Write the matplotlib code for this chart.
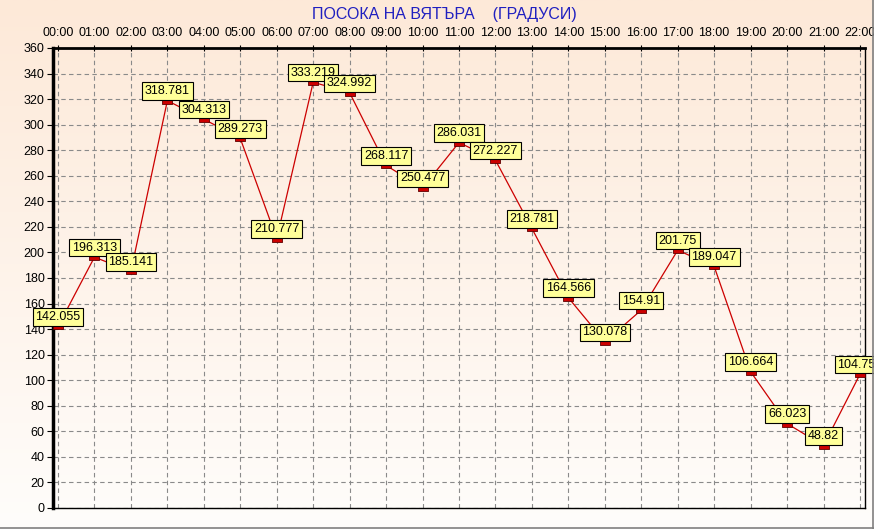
import matplotlib.pyplot as plt
import numpy as np
from matplotlib.path import Path
from matplotlib.lines import Line2D

hours = ['00:00', '01:00', '02:00', '03:00', '04:00', '05:00', '06:00', '07:00',
         '08:00', '09:00', '10:00', '11:00', '12:00', '13:00', '14:00', '15:00',
         '16:00', '17:00', '18:00', '19:00', '20:00', '21:00', '22:00']
direction = [142.055, 196.313, 185.141, 318.781, 304.313, 289.273, 210.777, 333.219,
             324.992, 268.117, 250.477, 286.031, 272.227, 218.781, 164.566, 130.078,
             154.91, 201.75, 189.047, 106.664, 66.023, 48.82, 104.758]
yticks = list(range(0, 361, 20))

plt.rcParams['font.family'] = ['Liberation Sans', 'DejaVu Sans']

fig = plt.figure(figsize=(8.74, 5.29), dpi=100)

# background gradient (peach at top -> near white at bottom)
bg = fig.add_axes([0, 0, 1, 1], zorder=-10)
top_c = np.array([253, 233, 216]) / 255
bot_c = np.array([255, 253, 251]) / 255
t = np.linspace(0, 1, 256)[:, None]
grad = top_c[None, :] * (1 - t) + bot_c[None, :] * t
bg.imshow(grad[:, None, :], aspect='auto', extent=[0, 1, 0, 1])
bg.set_axis_off()

ax = fig.add_axes([53 / 874, 1 - 508 / 529, (865 - 53) / 874, (508 - 48) / 529])
ax.patch.set_alpha(0)

x = np.arange(len(hours))
rect = Path([(-1, -0.5), (1, -0.5), (1, 0.5), (-1, 0.5), (-1, -0.5)],
            [Path.MOVETO, Path.LINETO, Path.LINETO, Path.LINETO, Path.CLOSEPOLY])
ax.plot(x, direction, color='#cc0000', lw=0.9, zorder=3)
ax.plot(x, direction, ls='none', marker=rect, ms=7.5, mfc='#cc0000', mec='#600000',
        mew=0.6, zorder=5, clip_on=False)

for xi, v in zip(x, direction):
    ax.annotate('{:g}'.format(v), (xi, v), xytext=(0, 2.5), textcoords='offset points',
                ha='center', va='bottom', fontsize=9, zorder=6, annotation_clip=False,
                bbox=dict(boxstyle='square,pad=0.22', fc='#ffff99', ec='black', lw=0.8))

ax.set_xlim(-0.137, 22.137)
ax.set_ylim(0, 360)
ax.set_xticks(x)
ax.set_xticklabels(hours)
ax.set_yticks(yticks)
ax.xaxis.tick_top()
ax.tick_params(axis='x', which='major', labelsize=9, direction='inout', length=5,
               width=0.8, pad=4)
ax.tick_params(axis='y', which='major', labelsize=9, direction='out', length=4,
               width=0.8, pad=2)
ax.grid(True, color='#8a8a8a', ls=(0, (4, 3)), lw=0.8)
ax.set_axisbelow(True)

ax.spines['left'].set_linewidth(2.5)
ax.spines['top'].set_linewidth(2)
ax.spines['right'].set_linewidth(1)
ax.spines['bottom'].set_linewidth(1)
ax.spines['bottom'].set_linestyle((0, (3, 1)))

fig.text(444 / 874, 1 - 15 / 529, 'ПОСОКА НА ВЯТЪРА    (ГРАДУСИ)', color='#2020c0',
         fontsize=11.5, ha='center', va='center')

# window frame
fig.add_artist(Line2D([0, 1], [1.5 / 529, 1.5 / 529], color='#808080', lw=1.2))
fig.add_artist(Line2D([1 - 1.5 / 874, 1 - 1.5 / 874], [0, 1], color='#808080', lw=1.2))

fig.savefig('out.png', dpi=100)
